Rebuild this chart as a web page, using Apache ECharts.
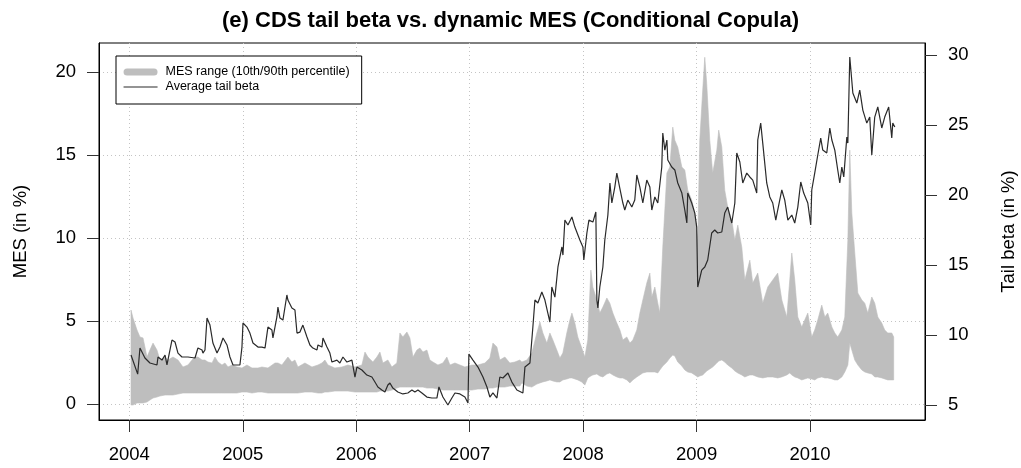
<!DOCTYPE html>
<html>
<head>
<meta charset="utf-8">
<title>CDS tail beta vs. dynamic MES</title>
<script src="https://cdn.jsdelivr.net/npm/echarts@6/dist/echarts.min.js"></script>
<style>
  html, body { margin: 0; padding: 0; background: #ffffff; }
  #chart { width: 1021px; height: 468px; }
</style>
</head>
<body>
<div id="chart"></div>
<script>
// Tick positions
const yearTicks = [2004, 2005, 2006, 2007, 2008, 2009, 2010];
const mesTicks = [0, 5, 10, 15, 20];
const betaTicks = [5, 10, 15, 20, 25, 30];

// Average tail beta (in %), right axis
const betaYears = [
  2004.015, 2004.074, 2004.094, 2004.138, 2004.182, 2004.244, 2004.253, 2004.288, 2004.315, 2004.332,
  2004.376, 2004.403, 2004.429, 2004.464, 2004.517, 2004.579, 2004.605, 2004.641, 2004.649, 2004.667,
  2004.685, 2004.711, 2004.737, 2004.773, 2004.799, 2004.826, 2004.861, 2004.887, 2004.914, 2004.975,
  2004.993, 2005.002, 2005.037, 2005.063, 2005.090, 2005.134, 2005.169, 2005.196, 2005.222, 2005.257,
  2005.266, 2005.301, 2005.310, 2005.328, 2005.354, 2005.389, 2005.398, 2005.433, 2005.460, 2005.478,
  2005.504, 2005.530, 2005.566, 2005.592, 2005.618, 2005.654, 2005.663, 2005.698, 2005.707, 2005.742,
  2005.768, 2005.786, 2005.830, 2005.856, 2005.883, 2005.918, 2005.962, 2005.989, 2006.006, 2006.050,
  2006.094, 2006.138, 2006.165, 2006.191, 2006.226, 2006.253, 2006.279, 2006.297, 2006.323, 2006.367,
  2006.411, 2006.455, 2006.491, 2006.517, 2006.544, 2006.579, 2006.623, 2006.667, 2006.711, 2006.729,
  2006.764, 2006.808, 2006.843, 2006.870, 2006.914, 2006.958, 2006.985, 2006.993, 2007.029, 2007.073,
  2007.117, 2007.152, 2007.178, 2007.205, 2007.240, 2007.266, 2007.293, 2007.337, 2007.372, 2007.416,
  2007.425, 2007.469, 2007.487, 2007.531, 2007.557, 2007.575, 2007.601, 2007.636, 2007.663, 2007.689,
  2007.707, 2007.724, 2007.751, 2007.778, 2007.813, 2007.822, 2007.839, 2007.866, 2007.901, 2007.927,
  2007.971, 2007.998, 2008.006, 2008.033, 2008.051, 2008.086, 2008.112, 2008.121, 2008.130, 2008.147,
  2008.174, 2008.191, 2008.218, 2008.236, 2008.253, 2008.279, 2008.297, 2008.323, 2008.350, 2008.367,
  2008.394, 2008.429, 2008.455, 2008.473, 2008.500, 2008.526, 2008.561, 2008.588, 2008.605, 2008.632,
  2008.658, 2008.693, 2008.702, 2008.720, 2008.738, 2008.746, 2008.781, 2008.808, 2008.834, 2008.870,
  2008.896, 2008.914, 2008.922, 2008.957, 2008.984, 2009.001, 2009.010, 2009.045, 2009.072, 2009.098,
  2009.133, 2009.160, 2009.186, 2009.222, 2009.248, 2009.274, 2009.310, 2009.337, 2009.354, 2009.381,
  2009.407, 2009.442, 2009.469, 2009.495, 2009.530, 2009.539, 2009.565, 2009.583, 2009.618, 2009.645,
  2009.671, 2009.698, 2009.715, 2009.751, 2009.777, 2009.804, 2009.839, 2009.865, 2009.892, 2009.918,
  2009.944, 2009.980, 2010.006, 2010.015, 2010.041, 2010.068, 2010.094, 2010.112, 2010.147, 2010.174,
  2010.192, 2010.218, 2010.244, 2010.262, 2010.280, 2010.297, 2010.324, 2010.333, 2010.350, 2010.377,
  2010.412, 2010.438, 2010.465, 2010.500, 2010.526, 2010.544, 2010.570, 2010.597, 2010.632, 2010.658,
  2010.693, 2010.720, 2010.729, 2010.747
];
const betaValues = [
  8.57, 7.21, 9.07, 8.36, 8.00, 7.86, 8.43, 8.21, 8.57, 7.86,
  9.64, 9.50, 8.71, 8.43, 8.43, 8.36, 9.07, 8.93, 8.71, 8.93,
  11.21, 10.71, 9.43, 8.71, 9.14, 9.79, 9.29, 8.43, 7.86, 7.86,
  9.14, 10.86, 10.57, 10.14, 9.43, 9.14, 9.14, 9.07, 10.57, 10.36,
  9.79, 11.29, 12.00, 11.21, 11.07, 12.86, 12.50, 11.93, 11.79, 10.14,
  10.21, 10.71, 9.86, 9.29, 9.07, 8.93, 9.29, 9.14, 9.79, 9.14,
  8.71, 8.07, 8.21, 8.00, 8.43, 8.07, 8.21, 7.00, 7.71, 7.50,
  7.14, 7.00, 6.64, 6.29, 6.07, 5.93, 6.43, 6.57, 6.21, 5.93,
  5.79, 5.86, 6.07, 5.93, 6.07, 5.86, 5.57, 5.50, 5.50, 6.29,
  5.57, 5.00, 5.50, 5.86, 5.79, 5.57, 5.14, 8.64, 8.21, 7.71,
  7.00, 6.29, 5.57, 5.86, 5.50, 7.00, 6.93, 7.29, 6.64, 6.07,
  5.93, 5.86, 7.71, 8.00, 10.57, 12.50, 12.29, 13.07, 12.50, 11.57,
  10.93, 13.43, 12.71, 14.86, 16.29, 15.71, 18.21, 17.86, 18.43, 17.71,
  16.79, 16.29, 15.36, 17.29, 18.21, 18.07, 18.79, 12.50, 11.93, 13.43,
  14.86, 16.79, 18.57, 20.86, 19.43, 20.57, 21.57, 20.50, 19.43, 18.93,
  19.64, 19.14, 19.64, 21.43, 20.57, 19.43, 21.07, 20.57, 18.93, 19.86,
  19.43, 22.00, 24.43, 23.21, 23.93, 22.50, 22.00, 21.79, 20.86, 20.14,
  18.93, 18.00, 20.14, 19.43, 18.71, 17.71, 13.43, 14.64, 14.86, 15.36,
  17.29, 17.50, 17.29, 17.36, 18.71, 19.14, 18.00, 19.43, 23.00, 22.36,
  20.86, 21.57, 21.29, 21.07, 20.14, 23.93, 25.14, 23.71, 20.86, 19.86,
  19.43, 18.21, 18.93, 20.36, 19.64, 18.21, 18.57, 18.00, 19.14, 20.93,
  20.14, 19.43, 17.86, 20.36, 21.57, 22.86, 24.07, 23.21, 23.00, 24.79,
  23.93, 23.21, 21.79, 20.86, 22.00, 21.29, 24.14, 23.71, 29.86, 27.29,
  26.57, 27.50, 26.07, 25.14, 25.57, 22.86, 25.57, 26.29, 24.79, 25.57,
  26.29, 24.07, 25.14, 24.86
];

// Dynamic MES (in %), 10th and 90th percentile across firms, left axis
const mesYears = [
  2004.015, 2004.033, 2004.068, 2004.094, 2004.121, 2004.156, 2004.182, 2004.209, 2004.244, 2004.270,
  2004.315, 2004.341, 2004.385, 2004.429, 2004.473, 2004.517, 2004.553, 2004.579, 2004.605, 2004.641,
  2004.667, 2004.693, 2004.729, 2004.755, 2004.782, 2004.817, 2004.843, 2004.870, 2004.905, 2004.949,
  2004.993, 2005.037, 2005.081, 2005.134, 2005.169, 2005.222, 2005.284, 2005.310, 2005.345, 2005.398,
  2005.433, 2005.460, 2005.486, 2005.548, 2005.610, 2005.663, 2005.698, 2005.724, 2005.751, 2005.812,
  2005.874, 2005.927, 2005.989, 2006.050, 2006.077, 2006.103, 2006.147, 2006.182, 2006.209, 2006.235,
  2006.279, 2006.314, 2006.358, 2006.385, 2006.411, 2006.447, 2006.473, 2006.500, 2006.535, 2006.561,
  2006.588, 2006.623, 2006.649, 2006.676, 2006.720, 2006.764, 2006.799, 2006.826, 2006.870, 2006.914,
  2006.958, 2007.020, 2007.072, 2007.134, 2007.178, 2007.205, 2007.240, 2007.266, 2007.310, 2007.354,
  2007.398, 2007.442, 2007.460, 2007.504, 2007.548, 2007.592, 2007.619, 2007.645, 2007.680, 2007.707,
  2007.733, 2007.768, 2007.795, 2007.821, 2007.856, 2007.883, 2007.901, 2007.927, 2007.953, 2007.988,
  2008.015, 2008.041, 2008.068, 2008.085, 2008.121, 2008.147, 2008.174, 2008.209, 2008.235, 2008.262,
  2008.297, 2008.324, 2008.350, 2008.385, 2008.412, 2008.438, 2008.473, 2008.500, 2008.526, 2008.561,
  2008.588, 2008.605, 2008.632, 2008.658, 2008.676, 2008.702, 2008.738, 2008.764, 2008.790, 2008.808,
  2008.834, 2008.870, 2008.896, 2008.922, 2008.957, 2008.984, 2009.010, 2009.028, 2009.054, 2009.072,
  2009.089, 2009.116, 2009.142, 2009.178, 2009.195, 2009.222, 2009.248, 2009.274, 2009.310, 2009.337,
  2009.363, 2009.398, 2009.425, 2009.469, 2009.495, 2009.539, 2009.583, 2009.627, 2009.671, 2009.715,
  2009.751, 2009.795, 2009.821, 2009.839, 2009.865, 2009.892, 2009.927, 2009.953, 2009.980, 2010.015,
  2010.041, 2010.068, 2010.103, 2010.130, 2010.156, 2010.192, 2010.218, 2010.244, 2010.280, 2010.306,
  2010.333, 2010.350, 2010.368, 2010.394, 2010.421, 2010.456, 2010.482, 2010.509, 2010.544, 2010.570,
  2010.597, 2010.632, 2010.658, 2010.685, 2010.720, 2010.737
];
const mesLower = [
  -0.06, -0.06, 0.06, 0.06, 0.06, 0.12, 0.24, 0.36, 0.42, 0.48,
  0.54, 0.54, 0.54, 0.60, 0.66, 0.66, 0.66, 0.66, 0.66, 0.66,
  0.66, 0.66, 0.66, 0.66, 0.66, 0.66, 0.66, 0.66, 0.66, 0.66,
  0.72, 0.72, 0.66, 0.72, 0.72, 0.66, 0.66, 0.66, 0.66, 0.66,
  0.66, 0.66, 0.66, 0.72, 0.72, 0.66, 0.66, 0.72, 0.72, 0.78,
  0.78, 0.78, 0.72, 0.72, 0.72, 0.72, 0.72, 0.72, 0.78, 0.78,
  0.78, 0.84, 0.96, 1.02, 1.02, 1.02, 1.02, 1.02, 1.02, 1.02,
  1.02, 0.96, 0.96, 0.96, 0.90, 0.84, 0.84, 0.84, 0.84, 0.84,
  0.84, 0.84, 0.90, 0.90, 0.96, 0.96, 1.02, 1.02, 1.02, 1.08,
  1.08, 1.08, 1.27, 1.08, 1.02, 1.20, 1.27, 1.33, 1.39, 1.45,
  1.39, 1.33, 1.33, 1.45, 1.51, 1.57, 1.57, 1.51, 1.45, 1.33,
  1.14, 1.57, 1.69, 1.75, 1.81, 1.69, 1.63, 1.81, 1.87, 1.75,
  1.63, 1.57, 1.57, 1.45, 1.27, 1.45, 1.63, 1.75, 1.87, 1.93,
  1.93, 1.93, 1.93, 1.87, 2.05, 2.29, 2.53, 2.77, 2.95, 2.89,
  2.53, 2.29, 2.05, 1.93, 1.87, 1.75, 1.63, 1.69, 1.75, 1.87,
  1.99, 2.11, 2.23, 2.47, 2.59, 2.65, 2.53, 2.35, 2.17, 1.99,
  1.87, 1.75, 1.63, 1.75, 1.75, 1.63, 1.57, 1.63, 1.63, 1.57,
  1.63, 1.75, 1.87, 1.75, 1.63, 1.57, 1.45, 1.51, 1.57, 1.51,
  1.45, 1.57, 1.63, 1.57, 1.57, 1.51, 1.45, 1.45, 1.63, 1.93,
  2.35, 3.67, 3.25, 2.65, 2.35, 2.05, 1.93, 1.87, 1.81, 1.63,
  1.63, 1.57, 1.51, 1.45, 1.45, 1.45
];
const mesUpper = [
  5.66, 5.18, 4.46, 4.04, 3.98, 2.83, 3.25, 3.67, 3.25, 2.65,
  2.83, 2.65, 2.83, 2.65, 2.23, 2.35, 2.65, 2.83, 2.83, 2.65,
  2.65, 2.53, 2.47, 2.83, 2.53, 2.35, 2.47, 2.23, 2.35, 2.23,
  2.17, 2.35, 2.17, 2.17, 2.23, 2.17, 2.47, 2.47, 2.35, 2.83,
  2.53, 2.65, 2.23, 2.47, 2.23, 2.35, 2.47, 2.65, 2.35, 2.17,
  2.23, 2.35, 2.23, 2.35, 3.13, 2.83, 2.53, 2.83, 3.13, 2.47,
  2.65, 2.23, 2.47, 4.28, 4.04, 4.34, 3.98, 2.83, 3.25, 3.37,
  3.13, 3.25, 2.65, 2.53, 2.35, 2.47, 2.83, 2.35, 2.47, 2.35,
  2.23, 2.35, 2.35, 2.47, 2.77, 3.67, 3.43, 2.65, 2.83, 2.47,
  2.53, 2.65, 2.53, 2.65, 3.07, 4.28, 4.94, 4.28, 3.67, 4.28,
  3.86, 3.25, 2.77, 3.07, 4.28, 5.06, 5.48, 4.88, 4.04, 3.37,
  2.83, 3.86, 8.07, 7.05, 6.27, 5.48, 5.84, 6.39, 6.08, 5.48,
  4.88, 4.46, 3.86, 4.04, 3.67, 3.86, 4.46, 5.48, 6.27, 7.29,
  7.89, 6.45, 7.05, 6.08, 5.48, 9.46, 13.92, 14.28, 16.69, 15.90,
  15.48, 14.28, 14.10, 12.89, 12.29, 11.51, 9.88, 15.90, 18.92, 20.90,
  19.34, 15.90, 13.92, 15.30, 16.51, 15.48, 12.89, 11.87, 11.08, 9.88,
  10.78, 9.46, 7.47, 8.67, 7.29, 7.89, 6.08, 7.05, 7.47, 7.89,
  6.27, 5.24, 7.47, 9.10, 7.47, 5.24, 4.64, 5.06, 5.48, 4.04,
  4.46, 5.06, 5.96, 5.24, 5.48, 4.64, 4.28, 4.04, 4.46, 5.24,
  9.88, 15.30, 11.51, 9.10, 6.69, 6.27, 6.08, 5.48, 6.45, 6.08,
  5.24, 4.88, 4.46, 4.28, 4.28, 4.04
];

const bandName = 'MES range (10th/90th percentile)';
const lineName = 'Average tail beta';
const FONT = '"Liberation Sans", Arial, Helvetica, sans-serif';
const BAND_GREY = '#bebebe';
const LINE_GREY = '#2a2a2a';
const GRID_DOTS = '#c4c4c4';

const bandRows = mesYears.map((x, i) => [x, mesLower[i], mesUpper[i]]);
const betaRows = betaYears.map((x, i) => [x, betaValues[i]]);

// The percentile band is one closed polygon: upper edge forward, lower edge back.
function renderBand(params, api) {
  if (params.dataIndex !== 0) return null;
  const pts = [];
  for (let i = 0; i < mesYears.length; i++) pts.push(api.coord([mesYears[i], mesUpper[i]]));
  for (let i = mesYears.length - 1; i >= 0; i--) pts.push(api.coord([mesYears[i], mesLower[i]]));
  return {
    type: 'polygon',
    shape: { points: pts },
    style: { fill: BAND_GREY, stroke: BAND_GREY, lineWidth: 0.6 }
  };
}

const dotted = { color: GRID_DOTS, width: 1, type: [1, 3] };
const tickLine = { color: '#333333', width: 1 };
const labelFont = { fontSize: 18.5, color: '#000000', fontFamily: FONT };

const chart = echarts.init(document.getElementById('chart'), null, { renderer: 'canvas' });
chart.setOption({
  animation: false,
  backgroundColor: '#ffffff',
  textStyle: { fontFamily: FONT },
  title: {
    text: '(e) CDS tail beta vs. dynamic MES (Conditional Copula)',
    left: 'center',
    top: 5,
    textStyle: { fontSize: 22, fontWeight: 'bold', color: '#000000', fontFamily: FONT }
  },
  grid: {
    left: 99, right: 96, top: 43, bottom: 48,
    outerBoundsMode: 'none',
    containLabel: false,
    show: true, borderColor: '#000000', borderWidth: 1, backgroundColor: 'transparent'
  },
  legend: {
    orient: 'vertical',
    left: 116, top: 56,
    itemWidth: 34, itemHeight: 7, itemGap: 1,
    padding: [9, 12, 10, 7],
    borderColor: '#000000', borderWidth: 1, borderRadius: 0,
    backgroundColor: '#ffffff',
    selectedMode: false,
    textStyle: { fontSize: 12.5, color: '#000000', fontFamily: FONT, lineHeight: 14, padding: [0, 0, 0, 3] },
    data: [
      { name: bandName, icon: 'path://M3.5,0H30.5A3.5,3.5,0,0,1,30.5,7H3.5A3.5,3.5,0,0,1,3.5,0Z', itemStyle: { color: BAND_GREY } },
      { name: lineName, itemStyle: { opacity: 0 }, lineStyle: { color: LINE_GREY, width: 1.1 } }
    ]
  },
  xAxis: {
    type: 'value',
    min: 2003.733, max: 2011.013,
    axisLine: { show: true, onZero: false, lineStyle: { color: '#000000' } },
    axisTick: { show: true, customValues: yearTicks, length: 12, lineStyle: tickLine },
    axisLabel: Object.assign({ customValues: yearTicks, margin: 25, formatter: v => String(v) }, labelFont),
    splitLine: { show: true, lineStyle: dotted }
  },
  yAxis: [
    {
      type: 'value', position: 'left',
      min: -0.965, max: 21.76,
      name: 'MES (in %)', nameLocation: 'middle', nameGap: 69, nameRotate: 90,
      nameTextStyle: labelFont,
      axisLine: { show: true, onZero: false, lineStyle: { color: '#000000' } },
      axisTick: { show: true, customValues: mesTicks, length: 12, lineStyle: tickLine },
      axisLabel: Object.assign({ customValues: mesTicks, margin: 23 }, labelFont),
      splitLine: { show: true, lineStyle: dotted }
    },
    {
      type: 'value', position: 'right',
      min: 3.93, max: 30.86,
      name: 'Tail beta (in %)', nameLocation: 'middle', nameGap: 74, nameRotate: 90,
      nameTextStyle: labelFont,
      axisLine: { show: true, onZero: false, lineStyle: { color: '#000000' } },
      axisTick: { show: true, customValues: betaTicks, length: 12, lineStyle: tickLine },
      axisLabel: Object.assign({ customValues: betaTicks, margin: 23 }, labelFont),
      splitLine: { show: false }
    }
  ],
  series: [
    {
      type: 'custom',
      name: bandName,
      xAxisIndex: 0, yAxisIndex: 0,
      renderItem: renderBand,
      encode: { x: 0, y: [1, 2] },
      data: bandRows,
      itemStyle: { color: BAND_GREY },
      silent: true,
      z: 2
    },
    {
      type: 'line',
      name: lineName,
      xAxisIndex: 0, yAxisIndex: 1,
      data: betaRows,
      symbol: 'none',
      showSymbol: false,
      lineStyle: { color: LINE_GREY, width: 1.2 },
      itemStyle: { color: LINE_GREY },
      silent: true,
      z: 3
    }
  ]
});
</script>
</body>
</html>
